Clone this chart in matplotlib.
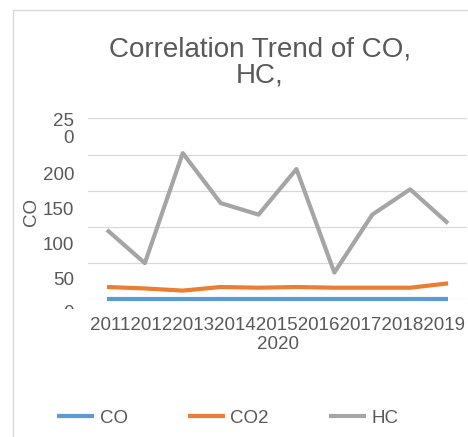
import matplotlib
matplotlib.use("Agg")
import matplotlib.pyplot as plt
from matplotlib.patches import Rectangle
from matplotlib.transforms import ScaledTranslation, Bbox, TransformedBbox

years = ["2011", "2012", "2013", "2014", "2015", "2016", "2017", "2018", "2019", "2020"]
co = [0.3, 0.3, 0.3, 0.3, 0.3, 0.3, 0.3, 0.3, 0.3, 0.3]
co2 = [17, 15, 12, 17, 16, 17, 16, 16, 16, 22]
hc = [96, 50, 202, 133, 117, 180, 37, 117, 152, 105]
y_ticks = [0, 50, 100, 150, 200, 250]
y_tick_labels = ["0", "50", "100", "150", "200", "25\n0"]
title = "Correlation Trend of CO,\nHC,"

W, H = 468, 437
DPI = 100
FS = 13.5
plt.rcParams['font.family'] = ['Liberation Sans', 'DejaVu Sans']
fig = plt.figure(figsize=(W / DPI, H / DPI), dpi=DPI)

# chart border
fig.patches.append(Rectangle((13 / W, -0.5), 2, 0.5 + (1 - 10 / H),
                             transform=fig.transFigure, fill=False,
                             ec='#D9D9D9', lw=1.0))

left, right, top, bottom = 88, 467, 118.4, 299.3
ax = fig.add_axes([left / W, 1 - bottom / H, (right - left) / W, (bottom - top) / H])

x = list(range(len(years)))
lw = 3.0
l1, = ax.plot(x, co, color='#5B9BD5', lw=lw, solid_capstyle='butt', solid_joinstyle='round', label='CO', clip_on=False)
l2, = ax.plot(x, co2, color='#ED7D31', lw=lw, solid_capstyle='butt', solid_joinstyle='round', label='CO2', clip_on=False)
l3, = ax.plot(x, hc, color='#A5A5A5', lw=lw, solid_capstyle='butt', solid_joinstyle='round', label='HC', clip_on=False)

ax.set_xlim(-0.5, len(years) - 0.5)
ax.set_ylim(0, 250)
for s in ax.spines.values():
    s.set_visible(False)
ax.set_yticks(y_ticks)
ax.set_yticklabels(y_tick_labels)
ax.yaxis.grid(True, color='#D9D9D9', lw=0.9)
ax.set_axisbelow(True)
ax.tick_params(axis='y', length=0, pad=10, labelsize=FS, labelcolor='#595959')
ax.tick_params(axis='x', length=0, pad=13, labelsize=FS, labelcolor='#595959')

# Single wrapped category label centered under the series
ax.set_xticks([(len(years) - 1) / 2])
ax.set_xticklabels(["".join(years[:-1]) + "\n" + years[-1]], linespacing=1.15)

# y label offsets (Excel-like placement)
offsets = [12.7, 14.9, 17.0, 18.2, 19.4, 0.0]
clip = TransformedBbox(Bbox([[0, 1 - 309 / H], [1, 1]]), fig.transFigure)
for lab, off in zip(ax.get_yticklabels(), offsets):
    lab.set_transform(lab.get_transform() + ScaledTranslation(0, -off / DPI, fig.dpi_scale_trans))
for lab, txt in zip(ax.get_yticklabels(), y_tick_labels):
    if "\n" in txt:
        lab.set_verticalalignment('top')
        lab.set_transform(lab.get_transform() + ScaledTranslation(0, 5 / DPI, fig.dpi_scale_trans))
        lab.set_linespacing(1.0)
    if txt == "0":
        lab.set_clip_box(clip)
        lab.set_clip_on(True)

ax.set_ylabel("CO", fontsize=FS, color='#595959')
ax.yaxis.set_label_coords(40 / W, 1 - 212 / H, transform=fig.transFigure)

fig.text(260 / W, 1 - 82 / H, title, ha='center', va='baseline', fontsize=20,
         color='#595959', linespacing=0.97, multialignment='center')

fig.legend(handles=[l1, l2, l3], loc='center left', bbox_to_anchor=(57 / W, 1 - 418 / H),
           ncol=3, frameon=False, fontsize=FS, borderpad=0, borderaxespad=0,
           handlelength=1.97, handletextpad=0.3, columnspacing=3.2, labelcolor='#595959')

fig.savefig("out.png", dpi=DPI)
